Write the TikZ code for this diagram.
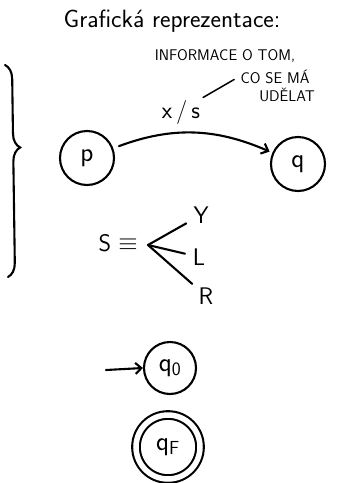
\documentclass[tikz,border=0pt]{standalone}
\usepackage{xcolor}
\usepackage{tikz}
\usetikzlibrary{arrows.meta,positioning,calc,decorations.pathreplacing}

\begin{document}
\begin{tikzpicture}[x=1pt,y=-1pt,font=\sffamily,line width=2.1pt,line cap=round,
  state/.style={circle,draw,minimum size=54pt,inner sep=0pt,font=\sffamily\fontsize{27}{30}\selectfont},
  caps/.style={font=\sffamily\fontsize{15.5}{18}\selectfont,inner sep=1pt},
  big/.style={font=\sffamily\fontsize{24}{28}\selectfont,inner sep=1pt},
  barb/.style={-{Straight Barb[length=6pt,width=11pt]}}]
  \useasboundingbox (0,0) rectangle (358,483);
  \node[big,font=\sffamily\fontsize{25}{30}\selectfont] (title) at (172,21) {Grafická reprezentace:};
  \node[caps] (info1) at (225,56) {INFORMACE O TOM,};
  \node[caps] (info2) at (275,77) {CO SE MÁ};
  \node[caps] (info3) at (287,95) {UDĚLAT};
  \draw[decorate,decoration={brace,amplitude=14pt,aspect=0.39}] (5,65) -- (8,277);
  % transition p -> q
  \node[state] (p) at (87,158) {p};
  \node[state] (q) at (298,164) {q};
  \draw[barb,shorten <=6pt,shorten >=3pt] (p) to[bend left=22] (q);
  \node[big] (lbl) at (181,112) {x\,/\,s};
  \draw[line width=1.5pt,shorten <=1pt,shorten >=5pt] (lbl.north east) -- (info2.west);
  % the moves
  \node[big] (s) at (105,243) {S};
  \node[big] (eqv) at (128,245) {$\equiv$};
  \coordinate (fork) at (148,245);
  \node[big] (y) at (201,215) {Y};
  \node[big] (l) at (199,257) {L};
  \node[big] (r) at (206,296) {R};
  \foreach \n in {y,l,r} \draw[shorten >=6pt] (fork) -- (\n);
  % start and final state
  \node[state,minimum size=52pt] (q0) at (170,368) {q\textsubscript{0}};
  \coordinate (start) at (106,370);
  \draw[barb] (start) -- (q0.west);
  \node[state,minimum size=64pt,double,double distance=5.5pt] (qF) at (168,447) {q\textsubscript{F}};
\end{tikzpicture}
\end{document}
